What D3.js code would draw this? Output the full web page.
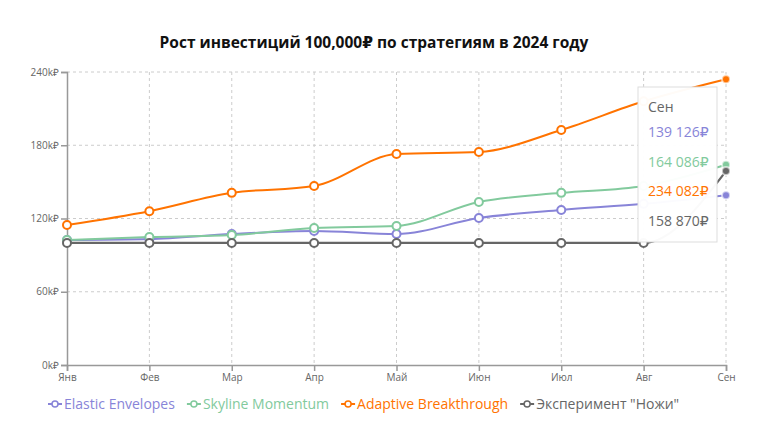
<!DOCTYPE html>
<html>
<head>
<meta charset="utf-8">
<script src="https://cdn.jsdelivr.net/npm/d3@7"></script>
<style>
  body { margin: 0; background: #fff; font-family: "Open Sans", "DejaVu Sans", sans-serif; }
</style>
</head>
<body>
<div id="chart"></div>
<script>
// данные
var months = ["Янв", "Фев", "Мар", "Апр", "Май", "Июн", "Июл", "Авг", "Сен"];
var elastic  = [102400, 103200, 107300, 109800, 107300, 120400, 127000, 132000, 139126];
var skyline  = [102400, 104800, 106500, 112200, 113900, 133500, 141000, 146600, 164086];
var adaptive = [114700, 126000, 141000, 146600, 172800, 174500, 192500, 216000, 234082];
var knives   = [100000, 100000, 100000, 100000, 100000, 100000, 100000, 100000, 158870];
var yTicks = [0, 60000, 120000, 180000, 240000];
var seriesNames = ["Elastic Envelopes", "Skyline Momentum", "Adaptive Breakthrough", "Эксперимент \"Ножи\""];

var colors = ["#8884d8", "#82ca9d", "#ff7300", "#666666"];
var series = [elastic, skyline, adaptive, knives];
var activeIndex = 8;

var width = 768, height = 428;
var margin = { top: 72, right: 42, bottom: 63, left: 67 };

var svg = d3.select("#chart").append("svg").attr("width", width).attr("height", height);

// заголовок
svg.append("text")
    .attr("x", 374)
    .attr("y", 48)
    .attr("text-anchor", "middle")
    .attr("font-size", "15.5px")
    .attr("font-weight", "bold")
    .attr("fill", "#111")
    .text("Рост инвестиций 100,000₽ по стратегиям в 2024 году");

var xScale = d3.scalePoint()
    .domain(months)
    .range([margin.left, width - margin.right]);

var yScale = d3.scaleLinear()
    .domain([0, 240000])
    .range([height - margin.bottom, margin.top]);

// сетка
var grid = svg.append("g").attr("stroke", "#ccc").attr("stroke-dasharray", "3 3");
grid.selectAll(".hg").data(yTicks.slice(1)).enter().append("line")
    .attr("x1", margin.left).attr("x2", width - margin.right)
    .attr("y1", function(d) { return yScale(d); })
    .attr("y2", function(d) { return yScale(d); });
grid.selectAll(".vg").data(months.slice(1)).enter().append("line")
    .attr("x1", function(d) { return xScale(d); })
    .attr("x2", function(d) { return xScale(d); })
    .attr("y1", margin.top).attr("y2", height - margin.bottom);

// оси
var axisx = d3.axisBottom(xScale).tickSize(6).tickPadding(3);
var axisy = d3.axisLeft(yScale).tickValues(yTicks).tickSize(6).tickPadding(2)
    .tickFormat(function(d) { return (d / 1000) + "k₽"; });

var gx = svg.append("g")
    .attr("transform", "translate(0," + (height - margin.bottom) + ")")
    .call(axisx);
var gy = svg.append("g")
    .attr("transform", "translate(" + margin.left + ",0)")
    .call(axisy);

[gx, gy].forEach(function(g) {
    g.select(".domain").attr("stroke", "#999").attr("stroke-width", 1.5);
    g.selectAll(".tick line").attr("stroke", "#999").attr("stroke-width", 1.5);
    g.selectAll(".tick text").attr("fill", "#666").attr("font-size", "10px")
        .attr("font-family", "\"Open Sans\", sans-serif");
});

// линии
var line = d3.line()
    .x(function(d, i) { return xScale(months[i]); })
    .y(function(d) { return yScale(d); })
    .curve(d3.curveMonotoneX);

series.forEach(function(s, k) {
    svg.append("path")
        .datum(s)
        .attr("fill", "none")
        .attr("stroke", colors[k])
        .attr("stroke-width", k == 3 ? 2.2 : 2)
        .attr("d", line);
});

series.forEach(function(s, k) {
    var g = svg.append("g");
    g.selectAll("circle")
        .data(s)
        .enter()
        .append("circle")
        .attr("cx", function(d, i) { return xScale(months[i]); })
        .attr("cy", function(d) { return yScale(d); })
        .attr("r", 4)
        .attr("fill", function(d, i) { return i == activeIndex ? colors[k] : "#fff"; })
        .attr("stroke", function(d, i) { return i == activeIndex ? "#fff" : colors[k]; })
        .attr("stroke-opacity", function(d, i) { return i == activeIndex ? 0.6 : 1; })
        .attr("stroke-width", 2);
});

// подсказка
var fmt = function(v) { return d3.format(",")(v).replace(/,/g, " ") + "₽"; };
var tip = svg.append("g").attr("transform", "translate(638,87)");
tip.append("rect")
    .attr("width", 79).attr("height", 155)
    .attr("fill", "#fff").attr("fill-opacity", 0.97)
    .attr("stroke", "#ddd");
tip.append("text")
    .attr("x", 10).attr("y", 25)
    .attr("font-size", "14px").attr("fill", "#666")
    .text(months[activeIndex]);
series.forEach(function(s, k) {
    tip.append("text")
        .attr("x", 10).attr("y", 50 + k * 29.5)
        .attr("font-size", "14px").attr("fill", colors[k])
        .text(fmt(s[activeIndex]));
});

// легенда
var legend = svg.append("g").attr("transform", "translate(0,404)");
var lx = 48;
seriesNames.forEach(function(name, k) {
    var item = legend.append("g").attr("transform", "translate(" + lx + ",0)");
    item.append("line").attr("x1", 0).attr("x2", 14).attr("y1", 0).attr("y2", 0)
        .attr("stroke", colors[k]).attr("stroke-width", 2);
    item.append("circle").attr("cx", 7).attr("cy", 0).attr("r", 3)
        .attr("fill", "#fff").attr("stroke", colors[k]).attr("stroke-width", 1.5);
    var t = item.append("text").attr("x", 16).attr("y", 5)
        .attr("font-size", "14px").attr("fill", colors[k]).text(name);
    lx += 16 + t.node().getComputedTextLength() + 12;
});
</script>
</body>
</html>
